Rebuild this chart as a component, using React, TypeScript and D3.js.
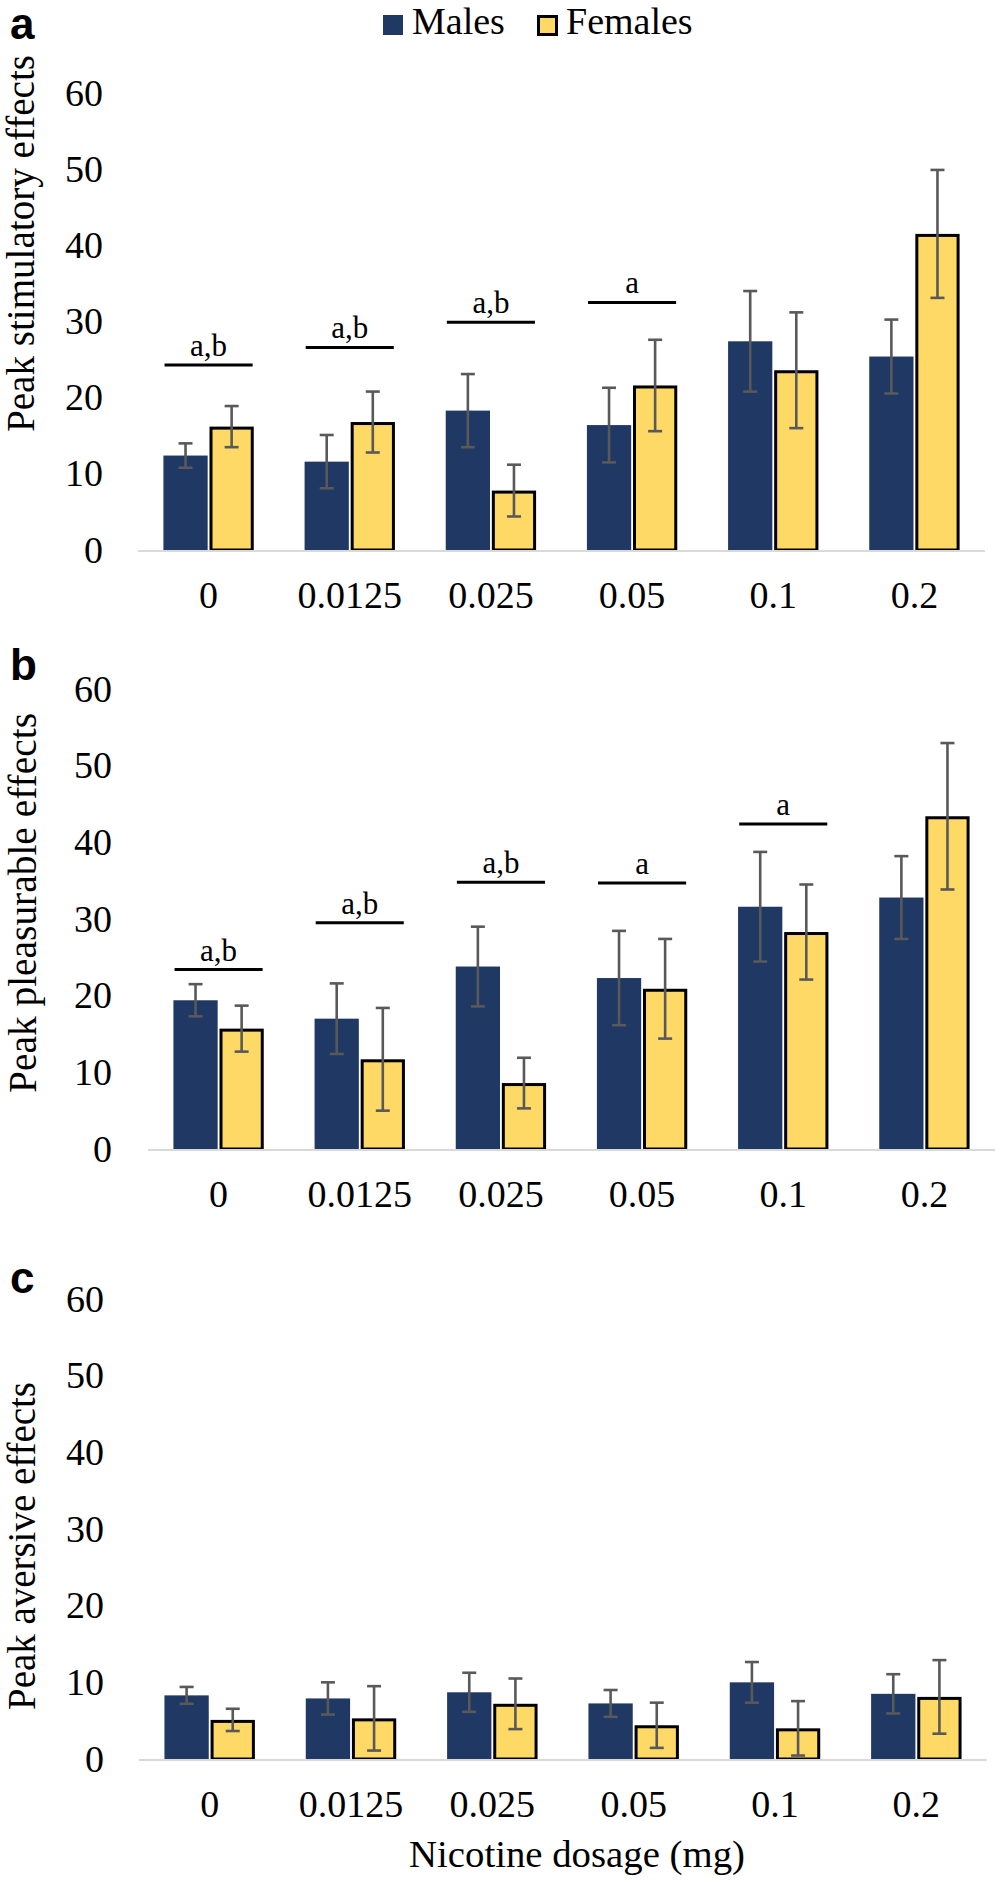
import React from 'react';
import * as d3 from 'd3';

const categories = ['0', '0.0125', '0.025', '0.05', '0.1', '0.2'];
const seriesNames = ['Males', 'Females'];
const yTicks = [0, 10, 20, 30, 40, 50, 60];

const stimMales = [12.4, 11.6, 18.3, 16.4, 27.4, 25.4];
const stimMalesErr = [1.6, 3.5, 4.8, 4.9, 6.6, 4.85];
const stimFemales = [16.2, 16.8, 7.8, 21.6, 23.6, 41.5];
const stimFemalesErr = [2.7, 4.0, 3.4, 6.0, 7.6, 8.4];

const pleasMales = [19.4, 17.0, 23.8, 22.3, 31.6, 32.8];
const pleasMalesErr = [2.1, 4.6, 5.2, 6.15, 7.15, 5.4];
const pleasFemales = [15.7, 11.7, 8.6, 20.9, 28.3, 43.4];
const pleasFemalesErr = [3.0, 6.7, 3.3, 6.5, 6.2, 9.55];

const aversMales = [8.3, 7.9, 8.7, 7.25, 10.0, 8.5];
const aversMalesErr = [1.1, 2.1, 2.55, 1.75, 2.65, 2.56];
const aversFemales = [5.1, 5.3, 7.2, 4.4, 4.0, 8.1];
const aversFemalesErr = [1.45, 4.2, 3.3, 2.95, 3.55, 4.8];

const stimSigCats = ['0', '0.0125', '0.025', '0.05'];
const stimSigLevels = [24.3, 26.6, 29.9, 32.5];
const stimSigLabels = ['a,b', 'a,b', 'a,b', 'a'];

const pleasSigCats = ['0', '0.0125', '0.025', '0.05', '0.1'];
const pleasSigLevels = [23.4, 29.5, 34.8, 34.7, 42.4];
const pleasSigLabels = ['a,b', 'a,b', 'a,b', 'a', 'a'];

const MALE = '#203864';
const FEMALE = '#FFD966';
const ERR = '#595959';
const AXIS = '#D9D9D9';
const SERIF = '"Liberation Serif", "Times New Roman", serif';
const SANS = '"Liberation Sans", Arial, sans-serif';

type Panel = {
  letter: string;
  letterY: number;
  title: string;
  titleX: number;
  titleY: number;
  titleLen: number;
  x0: number;
  x1: number;
  yZero: number;
  yMax: number;
  tickX: number;
  males: number[];
  malesErr: number[];
  females: number[];
  femalesErr: number[];
  sigCats: string[];
  sigLevels: number[];
  sigLabels: string[];
};

const panels: Panel[] = [
  {
    letter: 'a', letterY: 39, title: 'Peak stimulatory effects', titleX: 34, titleY: 243.5, titleLen: 377,
    x0: 138, x1: 985, yZero: 550, yMax: 93, tickX: 103,
    males: stimMales, malesErr: stimMalesErr, females: stimFemales, femalesErr: stimFemalesErr,
    sigCats: stimSigCats, sigLevels: stimSigLevels, sigLabels: stimSigLabels,
  },
  {
    letter: 'b', letterY: 680, title: 'Peak pleasurable effects', titleX: 36, titleY: 903, titleLen: 380,
    x0: 148, x1: 995, yZero: 1149, yMax: 689, tickX: 112,
    males: pleasMales, malesErr: pleasMalesErr, females: pleasFemales, femalesErr: pleasFemalesErr,
    sigCats: pleasSigCats, sigLevels: pleasSigLevels, sigLabels: pleasSigLabels,
  },
  {
    letter: 'c', letterY: 1293, title: 'Peak aversive effects', titleX: 35, titleY: 1546, titleLen: 328,
    x0: 139, x1: 987, yZero: 1759, yMax: 1299, tickX: 104,
    males: aversMales, malesErr: aversMalesErr, females: aversFemales, femalesErr: aversFemalesErr,
    sigCats: [], sigLevels: [], sigLabels: [],
  },
];

function PanelChart({ p }: { p: Panel }) {
  const x = d3.scaleBand<string>().domain(categories).range([p.x0, p.x1]).paddingInner(0.36).paddingOuter(0.18);
  const xs = d3.scaleBand<string>().domain(seriesNames).range([0, x.bandwidth()]).paddingInner(0.04);
  const y = d3.scaleLinear().domain([0, 60]).range([p.yZero, p.yMax]);
  const cap = 7;

  const bars: any[] = [];
  categories.forEach((c, i) => {
    seriesNames.forEach((s) => {
      const isM = s === 'Males';
      const v = isM ? p.males[i] : p.females[i];
      const e = isM ? p.malesErr[i] : p.femalesErr[i];
      const bx = (x(c) as number) + (xs(s) as number);
      const bw = xs.bandwidth();
      const cx = bx + bw / 2;
      const lo = y(Math.max(0, v - e));
      const hi = y(v + e);
      bars.push(
        <g key={c + s}>
          {isM ? (
            <rect x={bx} y={y(v)} width={bw} height={y(0) - y(v)} fill={MALE} />
          ) : (
            <rect x={bx + 1.5} y={y(v) + 1.5} width={bw - 3} height={y(0) - y(v) - 1.5} fill={FEMALE} stroke="#000" strokeWidth={3} />
          )}
          <line x1={cx} x2={cx} y1={hi} y2={lo} stroke={ERR} strokeWidth={2.6} />
          <line x1={cx - cap} x2={cx + cap} y1={hi} y2={hi} stroke={ERR} strokeWidth={2.6} />
          <line x1={cx - cap} x2={cx + cap} y1={lo} y2={lo} stroke={ERR} strokeWidth={2.6} />
        </g>
      );
    });
  });

  return (
    <g>
      <text x={10} y={p.letterY} fontFamily={SANS} fontWeight="bold" fontSize={44} fill="#000">{p.letter}</text>
      <text
        transform={`translate(${p.titleX},${p.titleY}) rotate(-90)`}
        textAnchor="middle"
        fontFamily={SERIF}
        fontSize={39}
        textLength={p.titleLen}
        lengthAdjust="spacingAndGlyphs"
        fill="#000"
      >
        {p.title}
      </text>
      {yTicks.map((t) => (
        <text key={t} x={p.tickX} y={y(t)} dy="0.33em" textAnchor="end" fontFamily={SERIF} fontSize={38} fill="#000">
          {t}
        </text>
      ))}
      {categories.map((c) => (
        <text key={c} x={(x(c) as number) + x.bandwidth() / 2} y={p.yZero + 58} textAnchor="middle" fontFamily={SERIF} fontSize={38} fill="#000">
          {c}
        </text>
      ))}
      {bars}
      <line x1={p.x0} x2={p.x1} y1={p.yZero + 1} y2={p.yZero + 1} stroke={AXIS} strokeWidth={2.2} />
      {p.sigCats.map((c, i) => {
        const cx = (x(c) as number) + x.bandwidth() / 2;
        const half = x.step() * 0.312;
        const ly = y(p.sigLevels[i]);
        return (
          <g key={'sig' + c}>
            <line x1={cx - half} x2={cx + half} y1={ly} y2={ly} stroke="#000" strokeWidth={3} />
            <text x={cx} y={ly - 9} textAnchor="middle" fontFamily={SERIF} fontSize={31} fill="#000">
              {p.sigLabels[i]}
            </text>
          </g>
        );
      })}
    </g>
  );
}

export default function App() {
  return (
    <svg width={1003} height={1885} style={{ position: 'absolute', left: 0, top: 0, display: 'block', background: '#fff' }}>
      <rect x={0} y={0} width={1003} height={1885} fill="#fff" />
      <rect x={383} y={15} width={20} height={20} fill={MALE} />
      <text x={412} y={34} fontFamily={SERIF} fontSize={38} fill="#000">{seriesNames[0]}</text>
      <rect x={538.5} y={16.5} width={18} height={18} fill={FEMALE} stroke="#000" strokeWidth={3} />
      <text x={566} y={34} fontFamily={SERIF} fontSize={38} fill="#000">{seriesNames[1]}</text>
      {panels.map((p) => (
        <PanelChart key={p.letter} p={p} />
      ))}
      <text x={577} y={1867} textAnchor="middle" fontFamily={SERIF} fontSize={38} textLength={336} lengthAdjust="spacingAndGlyphs" fill="#000">
        Nicotine dosage (mg)
      </text>
    </svg>
  );
}
